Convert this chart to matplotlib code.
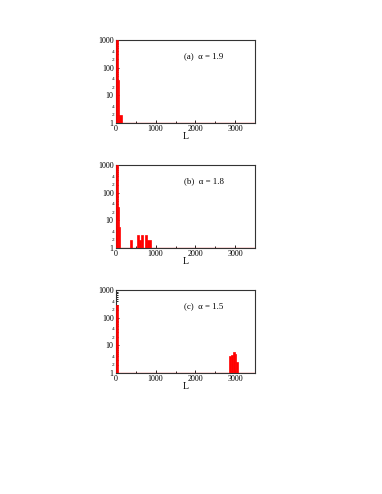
import matplotlib
matplotlib.use("Agg")
import matplotlib.pyplot as plt
from matplotlib.ticker import FixedLocator, FixedFormatter

# bin edges (L) and counts for each panel
edges_a = [0, 50, 85, 160]
counts_a = [1000, 36, 2]

edges_b = [0, 45, 70, 110, 360, 400, 545, 590, 645, 690, 740, 785, 875]
counts_b = [1000, 30, 6, 1, 2, 1, 3, 2, 3, 1, 3, 2]

edges_c = [0, 60, 2850, 2900, 2950, 3000, 3025, 3075]
counts_c = [300, 1, 4, 4.5, 6, 5, 2.5]

labels = ["(a)  \u03b1 = 1.9", "(b)  \u03b1 = 1.8", "(c)  \u03b1 = 1.5"]
xticks = [0, 1000, 2000, 3000]
yticks = [1, 10, 100, 1000]

plt.rcParams['font.family'] = ['Liberation Serif', 'DejaVu Serif']

fig = plt.figure(figsize=(3.82, 4.94), dpi=100)
boxes = [[0.303, 0.751, 0.365, 0.168],
         [0.303, 0.498, 0.365, 0.167],
         [0.303, 0.245, 0.365, 0.167]]

for box, edges, counts, lab in zip(boxes, [edges_a, edges_b, edges_c],
                                   [counts_a, counts_b, counts_c], labels):
    ax = fig.add_axes(box)
    ax.set_yscale('log')
    ax.set_xlim(0, 3500)
    ax.set_ylim(1, 1000)
    lefts = edges[:-1]
    widths = [edges[i + 1] - edges[i] for i in range(len(edges) - 1)]
    hts = [c - 1 for c in counts]
    ax.bar(lefts, hts, width=widths, bottom=1, align='edge', color='red',
           edgecolor='red', linewidth=0.5, zorder=3)
    ax.axhline(1.03, color='red', lw=0.9, zorder=3)
    ax.set_xticks(xticks)
    ax.set_xticklabels([str(t) for t in xticks], fontsize=5.8)
    ax.xaxis.set_minor_locator(FixedLocator([500, 1500, 2500, 3500]))
    ax.set_yticks(yticks)
    ax.set_yticklabels([str(t) for t in yticks], fontsize=5.8)
    minors = []
    mlabels = []
    for d in [1, 10, 100]:
        for k in range(2, 10):
            minors.append(k * d)
            mlabels.append(str(k) if k in (2, 4) else "")
    ax.yaxis.set_minor_locator(FixedLocator(minors))
    ax.yaxis.set_minor_formatter(FixedFormatter(mlabels))
    ax.tick_params(axis='y', which='minor', labelsize=3.8, length=1.5,
                   direction='in', pad=1)
    ax.tick_params(axis='both', which='major', direction='in', length=2.5,
                   width=0.6, pad=1.5)
    ax.tick_params(axis='x', which='minor', direction='in', length=1.5)
    for s in ax.spines.values():
        s.set_linewidth(0.8)
        s.set_color('#333333')
    ax.set_xlabel('L', fontsize=7, labelpad=-1)
    ax.text(0.49, 0.78, lab, transform=ax.transAxes, fontsize=6.3)

fig.savefig('out.png', dpi=100)
